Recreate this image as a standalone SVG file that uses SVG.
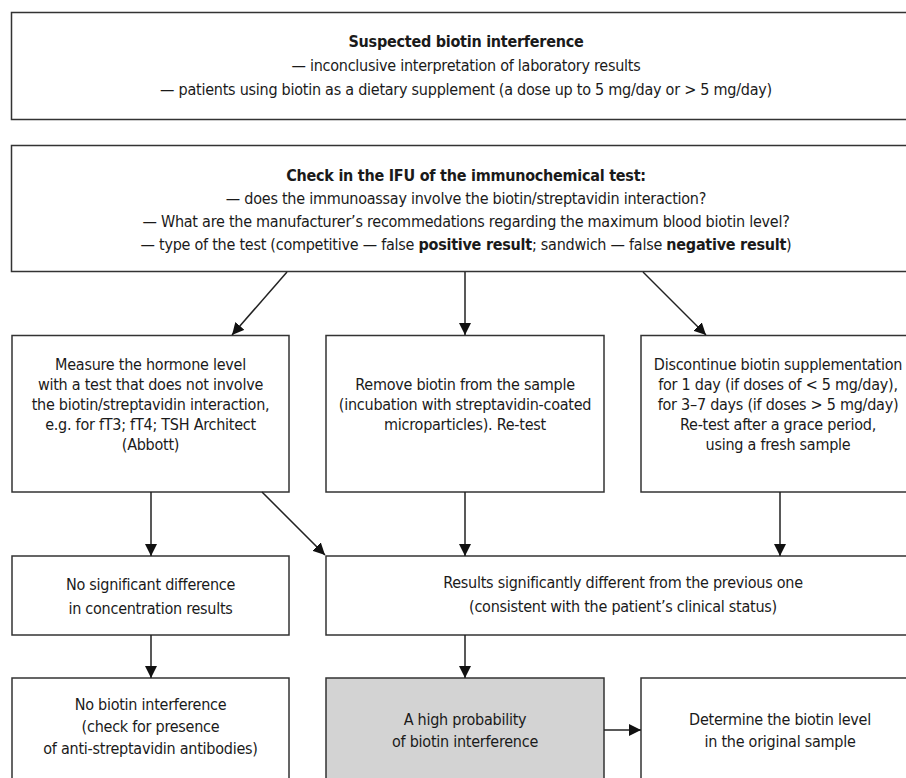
<svg xmlns="http://www.w3.org/2000/svg" width="906" height="778" viewBox="0 0 906 778">
  <style>
    .box { fill: #ffffff; stroke: #333333; stroke-width: 1.5; }
    .shade { fill: #d3d3d3; }
    text { font-family: "Liberation Sans Narrow", "Arial Narrow", "DejaVu Sans Condensed", "Liberation Sans", sans-serif; font-size: 16px; letter-spacing: -0.25px; fill: #1a1a1a; text-anchor: middle; }
    .b { font-weight: bold; }
    .conn { stroke: #222222; stroke-width: 1.5; fill: none; marker-end: url(#head); }
  </style>
  <defs>
    <marker id="head" markerUnits="userSpaceOnUse" markerWidth="13" markerHeight="13" refX="12" refY="6" orient="auto">
      <path d="M0,0 L12,6 L0,12 z" fill="#111111"/>
    </marker>
  </defs>
  <rect width="906" height="778" fill="#ffffff"/>

  <g id="suspected">
    <rect class="box" x="11.5" y="12.5" width="910" height="107"/>
    <text x="466" y="47" class="b">Suspected biotin interference</text>
    <text x="466" y="71">— inconclusive interpretation of laboratory results</text>
    <text x="466" y="95">— patients using biotin as a dietary supplement (a dose up to 5 mg/day or &gt; 5 mg/day)</text>
  </g>

  <g id="check-ifu">
    <rect class="box" x="11.5" y="145.5" width="910" height="126"/>
    <text x="466" y="181" class="b">Check in the IFU of the immunochemical test:</text>
    <text x="466" y="204">— does the immunoassay involve the biotin/streptavidin interaction?</text>
    <text x="466" y="227">— What are the manufacturer’s recommedations regarding the maximum blood biotin level?</text>
    <text x="466" y="250">— type of the test (competitive — false <tspan class="b">positive result</tspan>; sandwich — false <tspan class="b">negative result</tspan>)</text>
  </g>

  <g id="measure-alt">
    <rect class="box" x="12" y="335.5" width="277" height="156.5"/>
    <text x="150.5" y="370">Measure the hormone level</text>
    <text x="150.5" y="390">with a test that does not involve</text>
    <text x="150.5" y="410">the biotin/streptavidin interaction,</text>
    <text x="150.5" y="430">e.g. for fT3; fT4; TSH Architect</text>
    <text x="150.5" y="450">(Abbott)</text>
  </g>

  <g id="remove-biotin">
    <rect class="box" x="326" y="335.5" width="278" height="156.5"/>
    <text x="465" y="390">Remove biotin from the sample</text>
    <text x="465" y="410">(incubation with streptavidin-coated</text>
    <text x="465" y="430">microparticles). Re-test</text>
  </g>

  <g id="discontinue">
    <rect class="box" x="641" y="335.5" width="278" height="156.5"/>
    <text x="778" y="370">Discontinue biotin supplementation</text>
    <text x="778" y="390">for 1 day (if doses of &lt; 5 mg/day),</text>
    <text x="778" y="410">for 3–7 days (if doses &gt; 5 mg/day)</text>
    <text x="778" y="430">Re-test after a grace period,</text>
    <text x="778" y="450">using a fresh sample</text>
  </g>

  <g id="no-difference">
    <rect class="box" x="12" y="556" width="277" height="79"/>
    <text x="150.5" y="590">No significant difference</text>
    <text x="150.5" y="614">in concentration results</text>
  </g>

  <g id="significant-difference">
    <rect class="box" x="326" y="556" width="594" height="79"/>
    <text x="623" y="588">Results significantly different from the previous one</text>
    <text x="623" y="612">(consistent with the patient’s clinical status)</text>
  </g>

  <g id="no-interference">
    <rect class="box" x="12" y="678" width="277" height="120"/>
    <text x="150.5" y="710">No biotin interference</text>
    <text x="150.5" y="732">(check for presence</text>
    <text x="150.5" y="754">of anti-streptavidin antibodies)</text>
  </g>

  <g id="high-probability">
    <rect class="box shade" x="326" y="678" width="278" height="120"/>
    <text x="465" y="725">A high probability</text>
    <text x="465" y="747">of biotin interference</text>
  </g>

  <g id="determine-level">
    <rect class="box" x="641" y="678" width="278" height="120"/>
    <text x="780" y="725">Determine the biotin level</text>
    <text x="780" y="747">in the original sample</text>
  </g>

  <g id="connectors">
    <line class="conn" x1="287" y1="272" x2="232" y2="335"/>
    <line class="conn" x1="465" y1="272" x2="465" y2="335"/>
    <line class="conn" x1="643" y1="272" x2="706" y2="335"/>
    <line class="conn" x1="151" y1="492" x2="151" y2="556"/>
    <line class="conn" x1="262" y1="492" x2="325" y2="555"/>
    <line class="conn" x1="465" y1="492" x2="465" y2="556"/>
    <line class="conn" x1="780" y1="492" x2="780" y2="556"/>
    <line class="conn" x1="151" y1="635" x2="151" y2="678"/>
    <line class="conn" x1="465" y1="635" x2="465" y2="678"/>
    <line class="conn" x1="604" y1="730" x2="641" y2="730"/>
  </g>
</svg>
